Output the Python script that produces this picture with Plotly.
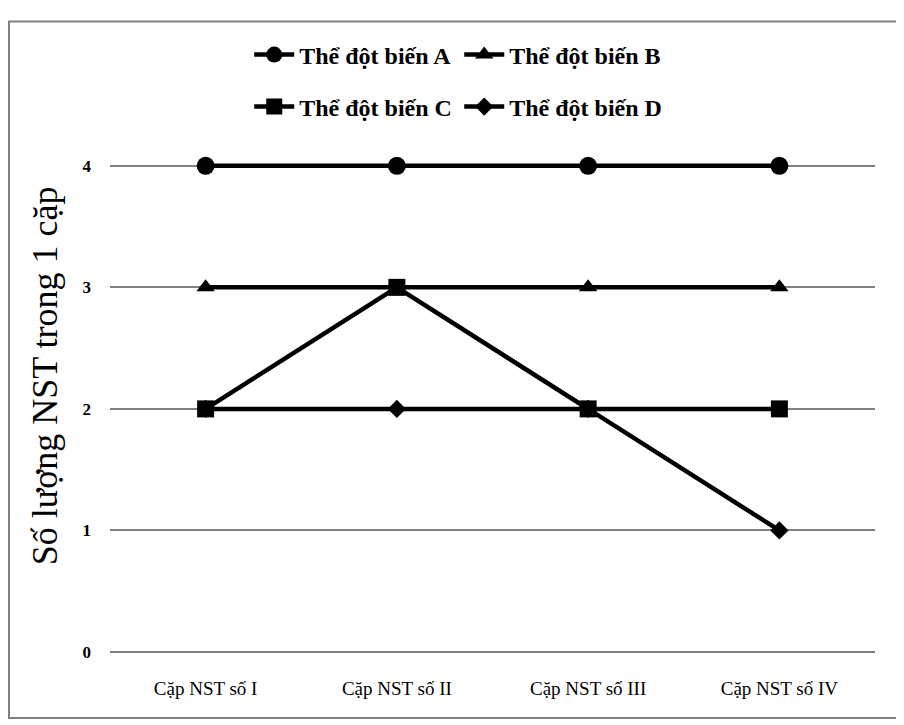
import plotly.graph_objects as go

categories = ["Cặp NST số I", "Cặp NST số II", "Cặp NST số III", "Cặp NST số IV"]
the_a = [4, 4, 4, 4]
the_b = [3, 3, 3, 3]
the_c = [2, 3, 2, 2]
the_d = [2, 2, 2, 1]
y_ticks = [0, 1, 2, 3, 4]

serif = "Liberation Serif, Times New Roman, serif"

fig = go.Figure()

series = [
    ("Thể đột biến A", the_a, "circle", 18, "legend"),
    ("Thể đột biến B", the_b, "triangle-up", 16, "legend"),
    ("Thể đột biến C", the_c, "square", 17, "legend2"),
    ("Thể đột biến D", the_d, "diamond", 14, "legend2"),
]
for name, vals, sym, size, leg in series:
    fig.add_trace(go.Scatter(
        x=categories, y=vals, name=name, mode="lines+markers",
        line=dict(color="black", width=4.5),
        marker=dict(symbol=sym, size=size, color="black"),
        cliponaxis=False, legend=leg))

legend_style = dict(orientation="h", xanchor="left", yanchor="middle",
                    font=dict(family=serif, size=24, color="black", weight="bold"),
                    bgcolor="rgba(0,0,0,0)", entrywidth=155, itemwidth=40,
                    xref="paper", yref="container")

# page has an 8px offset, so the figure is 8px smaller than the window
fig.update_layout(
    width=896, height=717,
    margin=dict(l=102, r=29, t=125, b=73),
    paper_bgcolor="white", plot_bgcolor="white",
    showlegend=True,
    legend=dict(x=0.182, y=1 - 47 / 717, **legend_style),
    legend2=dict(x=0.182, y=1 - 99 / 717, **legend_style),
    xaxis=dict(type="category", range=[-0.5, 3.5], showgrid=False,
               zeroline=False, showline=False, ticks="",
               tickfont=dict(family=serif, size=19, color="black"),
               ticklabelstandoff=23),
    yaxis=dict(range=[0, 4.2], tickvals=y_ticks, showgrid=True,
               gridcolor="#808080", gridwidth=1.5, zeroline=True,
               zerolinecolor="#808080", zerolinewidth=1.5,
               showline=False, ticks="",
               tickfont=dict(family=serif, size=17, color="black", weight="bold"),
               ticklabelstandoff=18),
    annotations=[dict(text="Số lượng NST trong 1 cặp", textangle=-90,
                      xref="paper", yref="paper", x=-65 / 765, y=0.54,
                      xanchor="center", yanchor="middle", showarrow=False,
                      font=dict(family=serif, size=36, color="black"))],
    shapes=[dict(type="rect", xref="paper", yref="paper",
                 x0=-101 / 765, x1=789 / 765,
                 y0=-67 / 519, y1=641 / 519,
                 line=dict(color="#808080", width=2))],
)

fig.write_html("out.html")
